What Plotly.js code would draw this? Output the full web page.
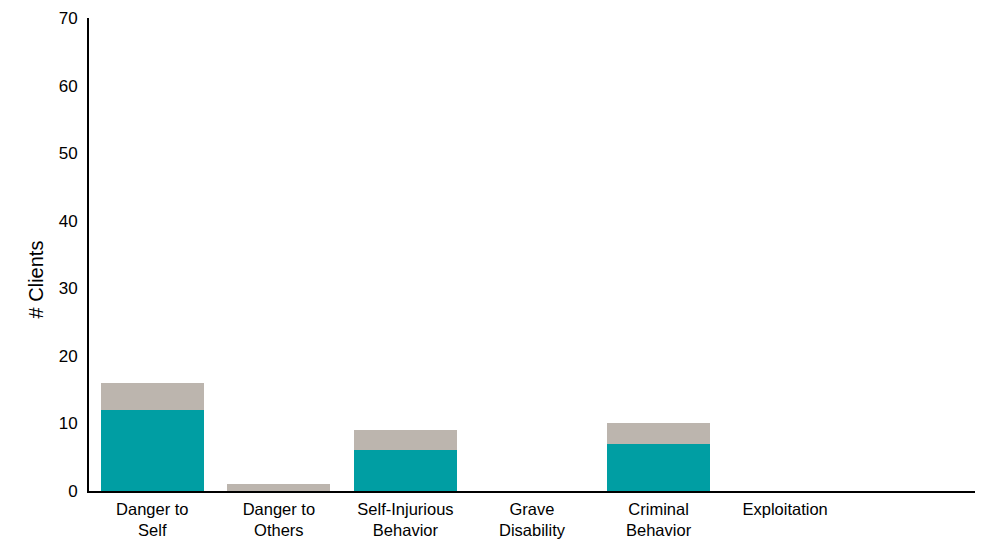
<!DOCTYPE html>
<html>
<head>
<meta charset="utf-8">
<script src="https://cdn.plot.ly/plotly-3.0.1.min.js"></script>
<style>html,body{margin:0;padding:0;background:#fff;}#chart{width:982px;height:539px;}</style>
</head>
<body>
<div id="chart"></div>
<script>
var categories = ["Danger to<br>Self", "Danger to<br>Others", "Self-Injurious<br>Behavior", "Grave<br>Disability", "Criminal<br>Behavior", "Exploitation", " "];
var seriesA = [12, 0, 6, 0, 7, 0, 0];
var seriesB = [4, 1, 3, 0, 3, 0, 0];
var yTicks = [0, 10, 20, 30, 40, 50, 60, 70];

var data = [
  {type: 'bar', x: categories, y: seriesA, marker: {color: '#009EA3'}, hoverinfo: 'none'},
  {type: 'bar', x: categories, y: seriesB, marker: {color: '#BCB5AE'}, hoverinfo: 'none'}
];
var layout = {
  width: 982, height: 539,
  margin: {l: 89, r: 7, t: 18, b: 48},
  barmode: 'stack',
  bargap: 0.186,
  showlegend: false,
  paper_bgcolor: '#fff', plot_bgcolor: '#fff',
  font: {family: 'Liberation Sans, Arial, sans-serif', size: 17, color: '#000'},
  xaxis: {
    type: 'category',
    showline: true, linecolor: '#000', linewidth: 2,
    showgrid: false, zeroline: false,
    ticks: 'outside', ticklen: 2, tickcolor: 'rgba(0,0,0,0)',
    tickfont: {size: 16.5}
  },
  yaxis: {
    range: [0, 70],
    tickvals: yTicks,
    showline: true, linecolor: '#000', linewidth: 2,
    showgrid: false, zeroline: false,
    ticks: 'outside', ticklen: 6, tickcolor: 'rgba(0,0,0,0)',
    tickfont: {size: 17}
  },
  annotations: [{
    text: '# Clients', textangle: -90, showarrow: false,
    xref: 'paper', yref: 'paper', x: -0.06, y: 0.447,
    xanchor: 'center', yanchor: 'middle',
    font: {size: 20}
  }]
};
Plotly.newPlot('chart', data, layout, {staticPlot: true});
</script>
</body>
</html>
